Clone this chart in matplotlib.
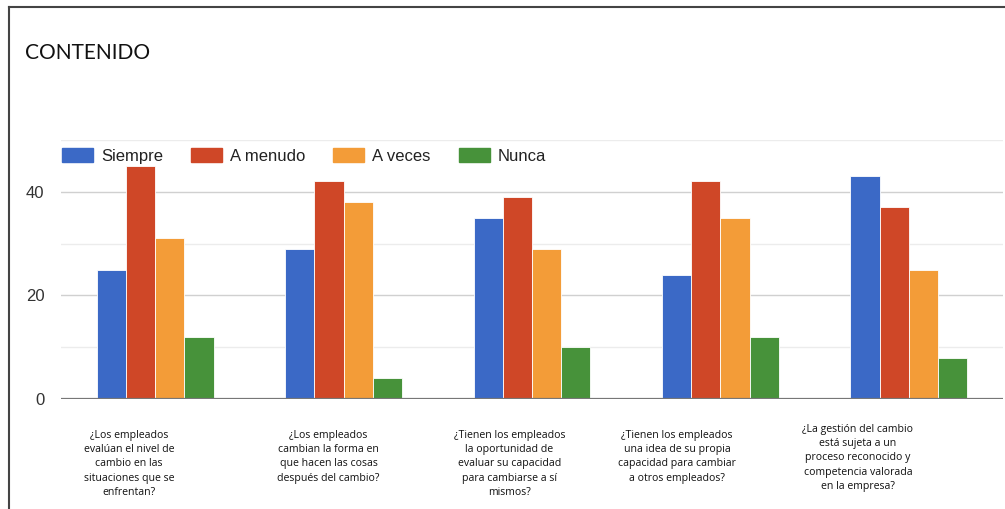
import matplotlib
matplotlib.use("Agg")
import matplotlib.pyplot as plt
import numpy as np
from matplotlib.lines import Line2D

categories = [
    "¿Los empleados\nevalúan el nivel de\ncambio en las\nsituaciones que se\nenfrentan?",
    "¿Los empleados\ncambian la forma en\nque hacen las cosas\ndespués del cambio?",
    "¿Tienen los empleados\nla oportunidad de\nevaluar su capacidad\npara cambiarse a sí\nmismos?",
    "¿Tienen los empleados\nuna idea de su propia\ncapacidad para cambiar\na otros empleados?",
    "¿La gestión del cambio\nestá sujeta a un\nproceso reconocido y\ncompetencia valorada\nen la empresa?",
]
series_names = ["Siempre", "A menudo", "A veces", "Nunca"]
siempre = [25, 29, 35, 24, 43]
a_menudo = [45, 42, 39, 42, 37]
a_veces = [31, 38, 29, 35, 25]
nunca = [12, 4, 10, 12, 8]
yticks = [0, 20, 40]
title = "CONTENIDO"

colors = ["#3b69c6", "#cf4727", "#f39c38", "#47923a"]
values = [siempre, a_menudo, a_veces, nunca]

W, H = 1005, 509
fig = plt.figure(figsize=(W / 100, H / 100), dpi=100)
fig.patch.set_facecolor("white")

ax_l, ax_r, ax_b, ax_t = 61, 1003, 399, 140
ax = fig.add_axes([ax_l / W, 1 - ax_b / H, (ax_r - ax_l) / W, (ax_b - ax_t) / H])

n = len(categories)
x = np.arange(n)
bw = 0.155
for k, (name, vals, c) in enumerate(zip(series_names, values, colors)):
    offs = (k - 1.5) * bw
    ax.bar(x + offs, vals, width=bw, color=c, edgecolor="white", linewidth=0.6,
           label=name, zorder=3)

ax.set_xlim(-0.5, n - 0.5)
ax.set_ylim(0, 50)
for v in [10, 30, 50]:
    ax.axhline(v, color="#ececec", linewidth=1, zorder=1)
for v in [20, 40]:
    ax.axhline(v, color="#d0d0d0", linewidth=1, zorder=1)
ax.axhline(0, color="#777777", linewidth=1.6, zorder=4)

for s in ax.spines.values():
    s.set_visible(False)
ax.set_xticks([])
ax.set_yticks(yticks)
ax.set_yticklabels([str(t) for t in yticks], fontsize=12, color="#333333",
                   family="Liberation Sans")
ax.tick_params(axis="y", length=0, pad=12)

# category labels (placed like pasted text blocks under each group)
label_dx = [-0.14, -0.08, -0.12, -0.23, -0.27]
label_top = [430, 430, 430, 430, 424]
for i, lab in enumerate(categories):
    fig.text((ax_l + (i + 0.5 + label_dx[i]) * (ax_r - ax_l) / n) / W,
             1 - label_top[i] / H, lab, ha="center", va="top",
             fontsize=7.6, linespacing=1.4, color="#111111", family="Open Sans")

# legend
handles = [plt.Rectangle((0, 0), 1, 1, color=c) for c in colors]
leg = fig.legend(handles, series_names, loc="upper left",
                 bbox_to_anchor=(62 / W, 1 - 148 / H), ncol=4, frameon=False,
                 handlelength=1.86, handleheight=0.9,
                 handletextpad=0.48, columnspacing=1.68,
                 borderpad=0, borderaxespad=0,
                 prop={"family": "Liberation Sans", "size": 12})
for t in leg.get_texts():
    t.set_color("#222222")

# title
fig.text(25 / W, 1 - 53 / H, title, ha="left", va="center", fontsize=15,
         color="#111111", family="Lato")

# border lines (top and left)
fig.add_artist(Line2D([9 / W, 1], [1 - 7 / H, 1 - 7 / H], color="#444444",
                      linewidth=1.5, transform=fig.transFigure))
fig.add_artist(Line2D([9 / W, 9 / W], [0, 1 - 7 / H], color="#444444",
                      linewidth=1.5, transform=fig.transFigure))

fig.savefig("out.png", dpi=100, facecolor="white")
